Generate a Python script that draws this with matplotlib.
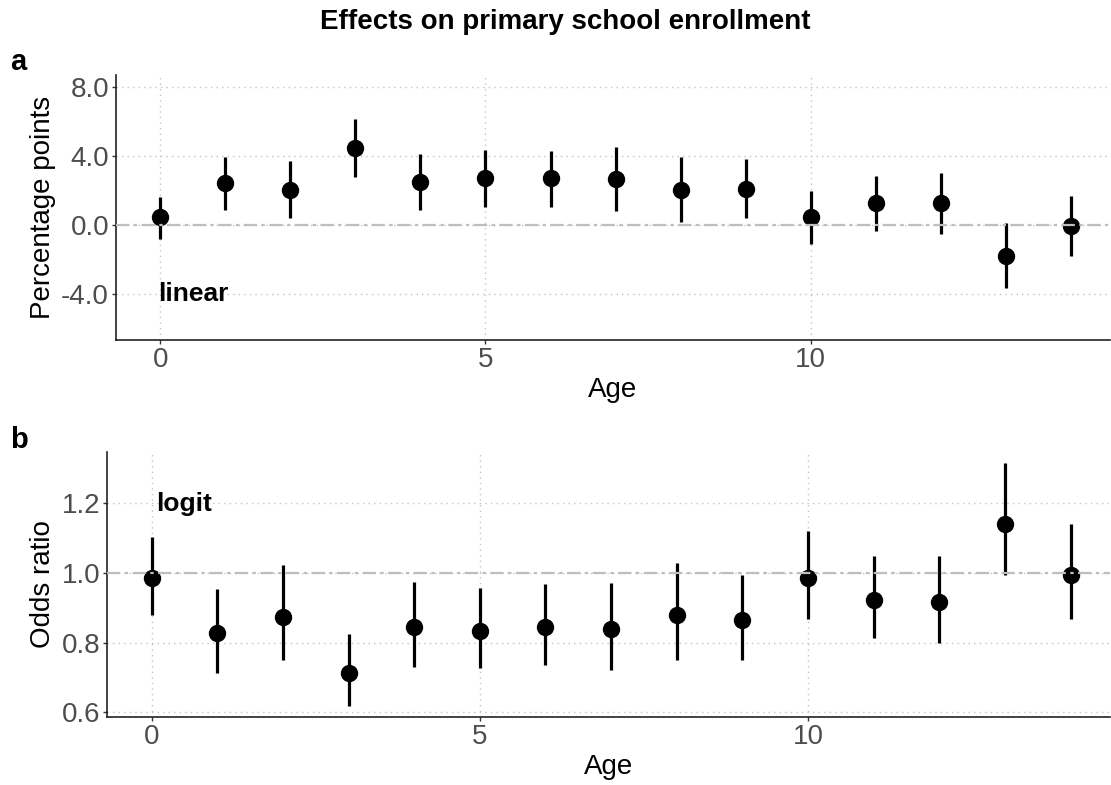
import numpy as np
import matplotlib.pyplot as plt

plt.rcParams['font.family'] = ['Liberation Sans', 'DejaVu Sans']

ages = np.arange(15)

# panel a: linear model, percentage points
lin_est = [0.45, 2.43, 2.05, 4.44, 2.49, 2.71, 2.71, 2.69, 2.05, 2.11, 0.45, 1.26, 1.26, -1.78, -0.04]
lin_lo = [-0.81, 0.89, 0.39, 2.76, 0.85, 1.06, 1.06, 0.83, 0.19, 0.39, -1.12, -0.35, -0.50, -3.63, -1.80]
lin_hi = [1.64, 3.96, 3.71, 6.14, 4.10, 4.35, 4.29, 4.50, 3.92, 3.81, 1.99, 2.84, 3.00, 0.10, 1.68]

# panel b: logit model, odds ratios
or_est = [0.986, 0.827, 0.874, 0.714, 0.844, 0.834, 0.845, 0.839, 0.879, 0.864, 0.985, 0.921, 0.916, 1.141, 0.995]
or_lo = [0.880, 0.714, 0.749, 0.618, 0.731, 0.726, 0.737, 0.723, 0.751, 0.751, 0.867, 0.812, 0.798, 0.995, 0.867]
or_hi = [1.102, 0.955, 1.021, 0.825, 0.973, 0.957, 0.969, 0.971, 1.029, 0.993, 1.119, 1.048, 1.047, 1.314, 1.139]

fig = plt.figure(figsize=(11.11, 7.85), dpi=100)
ax1 = fig.add_axes([116 / 1111, 1 - 340 / 785, 994 / 1111, 265 / 785])
ax2 = fig.add_axes([107 / 1111, 1 - 717 / 785, 1003 / 1111, 265 / 785])

grey_txt = '#4D4D4D'


def style_axis(ax):
    for s in ['top', 'right']:
        ax.spines[s].set_visible(False)
    for s in ['left', 'bottom']:
        ax.spines[s].set_linewidth(1.2)
        ax.spines[s].set_color('#222222')
    ax.grid(True, linestyle=(0, (1, 3)), color='#C4C4C4', linewidth=1.0)
    ax.set_axisbelow(True)
    ax.tick_params(axis='both', length=3, width=1, color='#333333',
                   labelsize=20, labelcolor=grey_txt, pad=2)
    ax.set_xticks([0, 5, 10])
    ax.set_xlim(-0.68, 14.6)
    ax.set_xlabel('Age', fontsize=20, labelpad=3)


def draw_panel(ax, est, lo, hi, ref):
    est = np.array(est)
    ax.vlines(ages, lo, hi, color='black', linewidth=2.3, zorder=3)
    ax.plot(ages, est, 'o', color='black', markersize=11.5, zorder=4)
    ax.axhline(ref, color='#BEBEBE', linewidth=1.6, zorder=5,
               linestyle=(0, (6, 2, 1.5, 2)))


draw_panel(ax1, lin_est, lin_lo, lin_hi, 0.0)
style_axis(ax1)
ax1.set_ylim(-6.67, 8.7)
ax1.set_yticks([-4, 0, 4, 8])
ax1.set_yticklabels(['-4.0', '0.0', '4.0', '8.0'])
ax1.set_ylabel('Percentage points', fontsize=20, labelpad=4)
ax1.text(-0.03, -4.0, 'linear', fontsize=19, fontweight='bold', ha='left', va='center')

draw_panel(ax2, or_est, or_lo, or_hi, 1.0)
style_axis(ax2)
ax2.set_ylim(0.587, 1.346)
ax2.set_yticks([0.6, 0.8, 1.0, 1.2])
ax2.set_yticklabels(['0.6', '0.8', '1.0', '1.2'])
ax2.set_ylabel('Odds ratio', fontsize=20, labelpad=4)
ax2.text(0.07, 1.196, 'logit', fontsize=19, fontweight='bold', ha='left', va='center')

fig.text(565 / 1111, 1 - 22 / 785, 'Effects on primary school enrollment',
         fontsize=20, fontweight='bold', ha='center', va='center')
fig.text(10 / 1111, 1 - 62 / 785, 'a', fontsize=21, fontweight='bold', ha='left', va='center')
fig.text(10 / 1111, 1 - 440 / 785, 'b', fontsize=21, fontweight='bold', ha='left', va='center')

fig.savefig('out.png', dpi=100)
